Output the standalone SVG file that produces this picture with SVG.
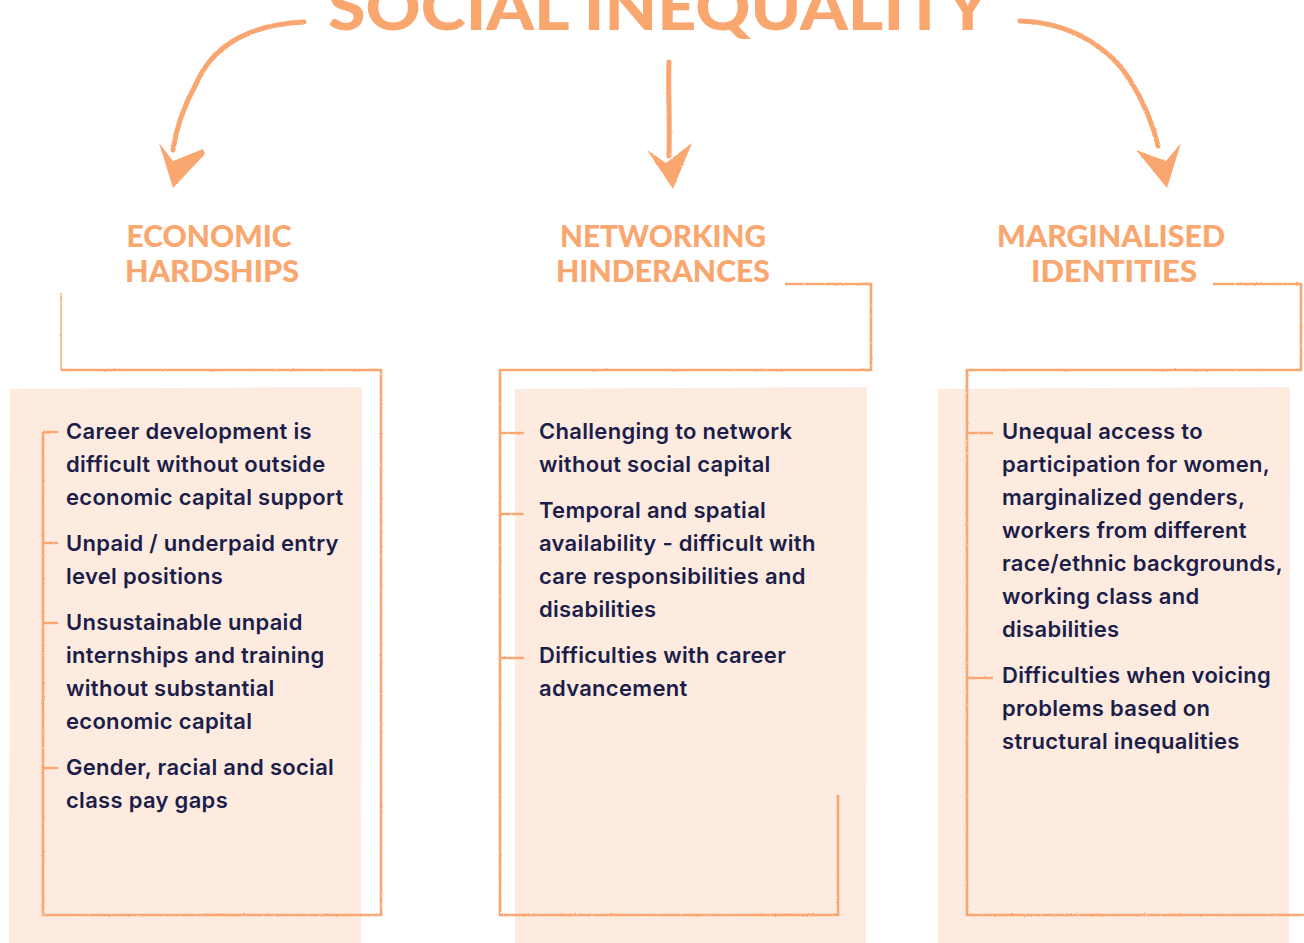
<svg xmlns="http://www.w3.org/2000/svg" width="1304" height="943" viewBox="0 0 1304 943">
  <style>
    .title { font-family: Lato, "Liberation Sans", sans-serif; font-weight: 900; fill: #F9A66F; }
    .head { font-family: Lato, "Liberation Sans", sans-serif; font-weight: 900; font-size: 31px; fill: #F9A66F; text-anchor: middle; }
    .body { font-family: Inter, "Liberation Sans", sans-serif; font-weight: 600; font-size: 22px; letter-spacing: 0.3px; fill: #1C1E4A; }
    .panel { fill: #FDEBE0; }
    .frame { fill: none; stroke: #F9A66F; stroke-width: 2.6; stroke-linejoin: miter; }
    .thin { fill: none; stroke: #F9A66F; stroke-width: 1.4; }
    .tick { stroke: #F9A66F; stroke-width: 2.4; }
    .brush { fill: none; stroke: #F9A66F; stroke-width: 5; stroke-linecap: round; }
    .head-tip { fill: #F9A66F; }
  </style>
  <defs>
    <filter id="rough" x="-5%" y="-5%" width="110%" height="110%">
      <feTurbulence type="fractalNoise" baseFrequency="0.9" numOctaves="2" seed="3" result="noise"/>
      <feDisplacementMap in="SourceGraphic" in2="noise" scale="2" xChannelSelector="R" yChannelSelector="G"/>
    </filter>
  </defs>

  <rect width="1304" height="943" fill="#FFFFFF"/>

  <!-- Title, running off the top edge -->
  <g id="title">
    <text class="title" x="328" y="30" font-size="62" textLength="662" lengthAdjust="spacingAndGlyphs">SOCIAL INEQUALITY</text>
  </g>

  <!-- Connectors from the title to the three themes -->
  <g id="connectors" filter="url(#rough)">
    <path class="brush" d="M304,22 C255,24 214,42 196,84 C184,106 176,128 173,150"/>
    <polygon class="head-tip" points="159,143 173,161 203,149 205,154 173,188"/>
    <path class="brush" d="M669,62 C668,90 670,120 669,156"/>
    <polygon class="head-tip" points="647,150 666,163 692,143 673,189"/>
    <path class="brush" d="M1020,21 C1070,22 1110,48 1130,80 C1145,104 1153,124 1158,146"/>
    <polygon class="head-tip" points="1136,150 1166,161 1181,143 1167,188"/>
  </g>

  <!-- Economic hardships -->
  <g id="economic">
    <path class="panel" d="M10,389 L362,387 L361,943 L9,943 Z"/>
    <g filter="url(#rough)">
      <path class="thin" d="M61,293 V370"/>
      <path class="frame" d="M61,370 H381 V915 H43 V432"/>
      <line class="tick" x1="43" y1="432" x2="58" y2="432"/>
      <line class="tick" x1="43" y1="543" x2="58" y2="543"/>
      <line class="tick" x1="43" y1="623" x2="58" y2="623"/>
      <line class="tick" x1="43" y1="768" x2="58" y2="768"/>
    </g>
    <text class="head" x="209" y="247" textLength="165" lengthAdjust="spacingAndGlyphs">ECONOMIC</text>
    <text class="head" x="212" y="282" textLength="174" lengthAdjust="spacingAndGlyphs">HARDSHIPS</text>
    <text class="body" x="66" y="439">Career development is</text>
    <text class="body" x="66" y="472">difficult without outside</text>
    <text class="body" x="66" y="505">economic capital support</text>
    <text class="body" x="66" y="551">Unpaid / underpaid entry</text>
    <text class="body" x="66" y="584">level positions</text>
    <text class="body" x="66" y="630">Unsustainable unpaid</text>
    <text class="body" x="66" y="663">internships and training</text>
    <text class="body" x="66" y="696">without substantial</text>
    <text class="body" x="66" y="729">economic capital</text>
    <text class="body" x="66" y="775">Gender, racial and social</text>
    <text class="body" x="66" y="808">class pay gaps</text>
  </g>

  <!-- Networking hinderances -->
  <g id="networking">
    <path class="panel" d="M515,389 L867,387 L866,943 L515,943 Z"/>
    <g filter="url(#rough)">
      <path class="frame" d="M785,284 H871 V370 H500 V915 H838 V795"/>
      <line class="tick" x1="500" y1="433" x2="524" y2="433"/>
      <line class="tick" x1="500" y1="514" x2="524" y2="514"/>
      <line class="tick" x1="500" y1="658" x2="524" y2="658"/>
    </g>
    <text class="head" x="663" y="247" textLength="206" lengthAdjust="spacingAndGlyphs">NETWORKING</text>
    <text class="head" x="663" y="282" textLength="214" lengthAdjust="spacingAndGlyphs">HINDERANCES</text>
    <text class="body" x="539" y="439">Challenging to network</text>
    <text class="body" x="539" y="472">without social capital</text>
    <text class="body" x="539" y="518">Temporal and spatial</text>
    <text class="body" x="539" y="551">availability - difficult with</text>
    <text class="body" x="539" y="584">care responsibilities and</text>
    <text class="body" x="539" y="617">disabilities</text>
    <text class="body" x="539" y="663">Difficulties with career</text>
    <text class="body" x="539" y="696">advancement</text>
  </g>

  <!-- Marginalised identities -->
  <g id="marginalised">
    <path class="panel" d="M938,389 L1290,387 L1289,943 L938,943 Z"/>
    <g filter="url(#rough)">
      <path class="frame" d="M1213,284 H1301 V370 H967 V915 H1304"/>
      <line class="tick" x1="967" y1="433" x2="993" y2="433"/>
      <line class="tick" x1="967" y1="678" x2="993" y2="678"/>
    </g>
    <text class="head" x="1111" y="247" textLength="228" lengthAdjust="spacingAndGlyphs">MARGINALISED</text>
    <text class="head" x="1114" y="282" textLength="166" lengthAdjust="spacingAndGlyphs">IDENTITIES</text>
    <text class="body" x="1002" y="439">Unequal access to</text>
    <text class="body" x="1002" y="472">participation for women,</text>
    <text class="body" x="1002" y="505">marginalized genders,</text>
    <text class="body" x="1002" y="538">workers from different</text>
    <text class="body" x="1002" y="571">race/ethnic backgrounds,</text>
    <text class="body" x="1002" y="604">working class and</text>
    <text class="body" x="1002" y="637">disabilities</text>
    <text class="body" x="1002" y="683">Difficulties when voicing</text>
    <text class="body" x="1002" y="716">problems based on</text>
    <text class="body" x="1002" y="749">structural inequalities</text>
  </g>
</svg>
